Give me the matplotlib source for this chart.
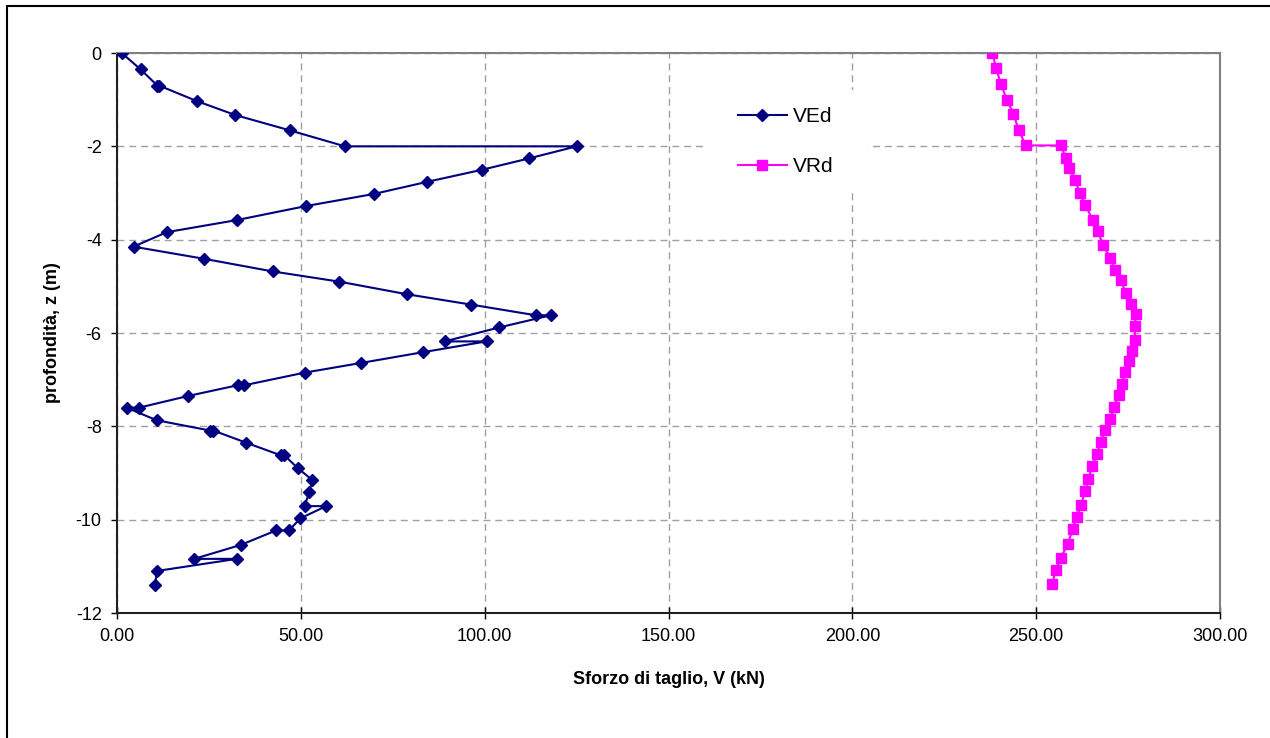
import matplotlib
matplotlib.use("Agg")
import matplotlib.pyplot as plt
from matplotlib.patches import Rectangle
from matplotlib.ticker import FuncFormatter, MultipleLocator

plt.rcParams['font.family'] = ['Liberation Sans', 'DejaVu Sans']
plt.rcParams['axes.unicode_minus'] = False

# VEd series
z_ed = [0, -0.35, -0.70, -0.70, -1.03, -1.33, -1.66, -2.00, -2.00, -2.26, -2.50,
        -2.76, -3.02, -3.28, -3.58, -3.84, -4.15, -4.41, -4.68, -4.90, -5.17,
        -5.39, -5.62, -5.62, -5.88, -6.18, -6.18, -6.41, -6.64, -6.85, -7.12,
        -7.12, -7.35, -7.60, -7.60, -7.87, -8.09, -8.09, -8.35, -8.62, -8.62,
        -8.89, -9.15, -9.41, -9.71, -9.71, -9.97, -10.23, -10.23, -10.54,
        -10.84, -10.84, -11.10, -11.39]
v_ed = [1.3, 6.4, 11.0, 11.5, 21.7, 32.2, 47.1, 62.0, 125.0, 112.0, 99.4,
        84.4, 69.9, 51.4, 32.6, 13.5, 4.5, 23.7, 42.3, 60.5, 78.9,
        96.2, 113.9, 118.0, 104.0, 89.1, 100.5, 83.3, 66.5, 51.0, 34.6,
        32.8, 19.3, 6.0, 2.6, 10.8, 25.3, 26.2, 35.1, 44.5, 45.5,
        49.1, 53.1, 52.3, 51.0, 56.9, 49.9, 46.8, 43.3, 33.7,
        21.0, 32.6, 10.8, 10.4]

# VRd series
z_rd = [0, -0.33, -0.66, -1.00, -1.30, -1.64, -1.98, -1.98, -2.25, -2.47, -2.73,
        -3.00, -3.26, -3.57, -3.82, -4.12, -4.39, -4.64, -4.87, -5.14, -5.37,
        -5.59, -5.85, -6.15, -6.39, -6.61, -6.83, -7.09, -7.32, -7.58, -7.84,
        -8.07, -8.34, -8.60, -8.85, -9.12, -9.39, -9.69, -9.95, -10.21, -10.52,
        -10.82, -11.08, -11.37]
v_rd = [238.1, 239.1, 240.4, 242.0, 243.8, 245.2, 247.1, 256.7, 258.1, 259.0, 260.6,
        261.9, 263.3, 265.4, 266.7, 268.3, 270.1, 271.5, 273.0, 274.4, 275.8,
        277.2, 276.8, 276.9, 276.2, 275.3, 274.2, 273.3, 272.4, 271.3, 270.1,
        268.6, 267.7, 266.5, 265.3, 264.2, 263.3, 262.2, 261.0, 259.9, 258.6,
        256.7, 255.3, 254.4]

W, H = 1270, 738
fig = plt.figure(figsize=(W / 100, H / 100), dpi=100)
ax = fig.add_axes([117 / W, 1 - 613 / H, (1220 - 117) / W, (613 - 53) / H])

ax.plot(v_ed, z_ed, color='#000080', lw=1.5, marker='D', markersize=6.5,
        label='VEd', zorder=3)
ax.plot(v_rd, z_rd, color='#FF00FF', lw=1.5, marker='s', markersize=7,
        label='VRd', zorder=3)

ax.set_xlim(0, 300)
ax.set_ylim(-12, 0)
ax.xaxis.set_major_locator(MultipleLocator(50))
ax.yaxis.set_major_locator(MultipleLocator(2))
ax.xaxis.set_major_formatter(FuncFormatter(lambda v, p: f"{v:.2f}"))
ax.yaxis.set_major_formatter(FuncFormatter(lambda v, p: f"{int(round(v))}"))

ax.grid(True, color='#A0A0A0', linestyle=(0, (5, 3.5)), linewidth=1.0, zorder=0)
ax.set_axisbelow(True)

for s in ['top', 'right']:
    ax.spines[s].set_color('#808080')
    ax.spines[s].set_linewidth(1.5)
for s in ['left', 'bottom']:
    ax.spines[s].set_color('#202020')
    ax.spines[s].set_linewidth(1.5)

ax.tick_params(axis='x', direction='inout', length=9, width=1, pad=6,
               labelsize=13, colors='black')
ax.tick_params(axis='y', direction='out', length=4, width=1, pad=7,
               labelsize=13, colors='black')

ax.set_xlabel('Sforzo di taglio, V (kN)', fontsize=13, fontweight='bold',
              va='center', ha='center')
ax.xaxis.set_label_coords(0.5, -(679 - 613) / (613 - 53))
ax.set_ylabel('profondità, z (m)', fontsize=13, fontweight='bold',
              va='center', ha='center', rotation=90)
ax.yaxis.set_label_coords((52 - 117) / (1220 - 117), 0.5)

# white legend background (hides grid behind legend)
ax.add_patch(Rectangle((705 / W, 1 - 192 / H), (868 - 705) / W, (192 - 90) / H,
                       transform=fig.transFigure, facecolor='white',
                       edgecolor='none', zorder=1))

leg = ax.legend(loc='upper left',
                bbox_to_anchor=(727.6 / W, 1 - 97 / H),
                bbox_transform=fig.transFigure,
                fontsize=15, frameon=False,
                borderaxespad=0, borderpad=0.5, handlelength=2.35,
                handletextpad=0.3, labelspacing=1.46)

# outer frame of the chart area
fig.patches.append(Rectangle((7 / W, -0.1), 2, (H - 6) / H + 0.1,
                             transform=fig.transFigure, fill=False,
                             edgecolor='black', linewidth=1.5, clip_on=False))

fig.savefig('out.png', dpi=100)
